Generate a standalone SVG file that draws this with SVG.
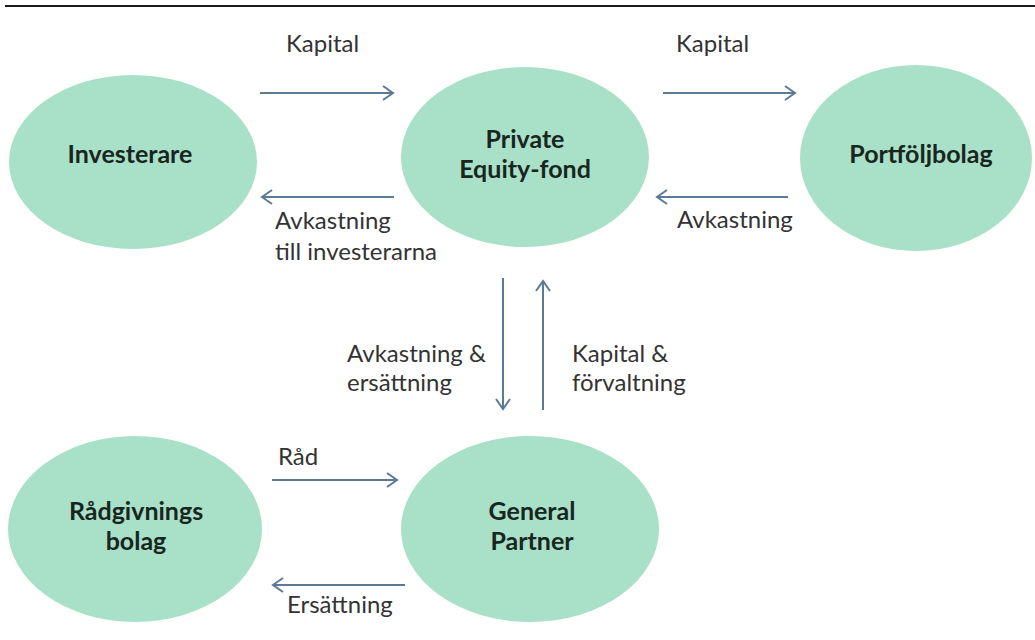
<svg xmlns="http://www.w3.org/2000/svg" width="1035" height="640" viewBox="0 0 1035 640">
  <defs>
    <marker id="arr" markerUnits="userSpaceOnUse" markerWidth="16" markerHeight="18" refX="12" refY="8" orient="auto">
      <path d="M2,1 L12,8 L2,15" fill="none" stroke="#5b7a95" stroke-width="2"/>
    </marker>
    <style>
      .node { fill: #a9e0c8; }
      .nl { font-family: Lato, "Liberation Sans", sans-serif; font-weight: bold; font-size: 25px; fill: #18261f; text-anchor: middle; }
      .el { font-family: Lato, "Liberation Sans", sans-serif; font-size: 24px; fill: #333333; }
      .conn line { stroke: #5b7a95; stroke-width: 2; marker-end: url(#arr); }
    </style>
  </defs>
  <rect width="1035" height="640" fill="#ffffff"/>
  <line x1="5" y1="6" x2="1035" y2="6" stroke="#1a1a1a" stroke-width="2"/>

  <g id="investerare">
    <ellipse class="node" cx="133" cy="162" rx="124" ry="87"/>
    <text class="nl" x="130" y="163">Investerare</text>
  </g>
  <g id="pe-fond">
    <ellipse class="node" cx="525" cy="157" rx="124" ry="90"/>
    <text class="nl" x="525" y="148">Private</text>
    <text class="nl" x="525" y="178">Equity-fond</text>
  </g>
  <g id="portfoljbolag">
    <ellipse class="node" cx="916" cy="158" rx="116" ry="93"/>
    <text class="nl" x="921" y="163">Portföljbolag</text>
  </g>
  <g id="radgivningsbolag">
    <ellipse class="node" cx="135" cy="529" rx="127" ry="93"/>
    <text class="nl" x="136" y="520">Rådgivnings</text>
    <text class="nl" x="136" y="550">bolag</text>
  </g>
  <g id="general-partner">
    <ellipse class="node" cx="530" cy="529" rx="129" ry="93"/>
    <text class="nl" x="532" y="520">General</text>
    <text class="nl" x="532" y="550">Partner</text>
  </g>

  <g id="connectors" class="conn">
    <line x1="260" y1="93" x2="393" y2="93"/>
    <line x1="663" y1="93" x2="795" y2="93"/>
    <line x1="394" y1="197" x2="262" y2="197"/>
    <line x1="788" y1="197" x2="657" y2="197"/>
    <line x1="503" y1="278" x2="503" y2="409"/>
    <line x1="543" y1="410" x2="543" y2="281"/>
    <line x1="272" y1="480" x2="397" y2="480"/>
    <line x1="405" y1="585" x2="273" y2="585"/>
  </g>

  <g id="labels">
    <text class="el" x="286" y="52">Kapital</text>
    <text class="el" x="676" y="52">Kapital</text>
    <text class="el" x="275" y="229">Avkastning</text>
    <text class="el" x="275" y="260">till investerarna</text>
    <text class="el" x="677" y="228">Avkastning</text>
    <text class="el" x="347" y="362">Avkastning &amp;</text>
    <text class="el" x="347" y="391">ersättning</text>
    <text class="el" x="572" y="362">Kapital &amp;</text>
    <text class="el" x="572" y="391">förvaltning</text>
    <text class="el" x="278" y="465">Råd</text>
    <text class="el" x="287" y="613">Ersättning</text>
  </g>
</svg>
